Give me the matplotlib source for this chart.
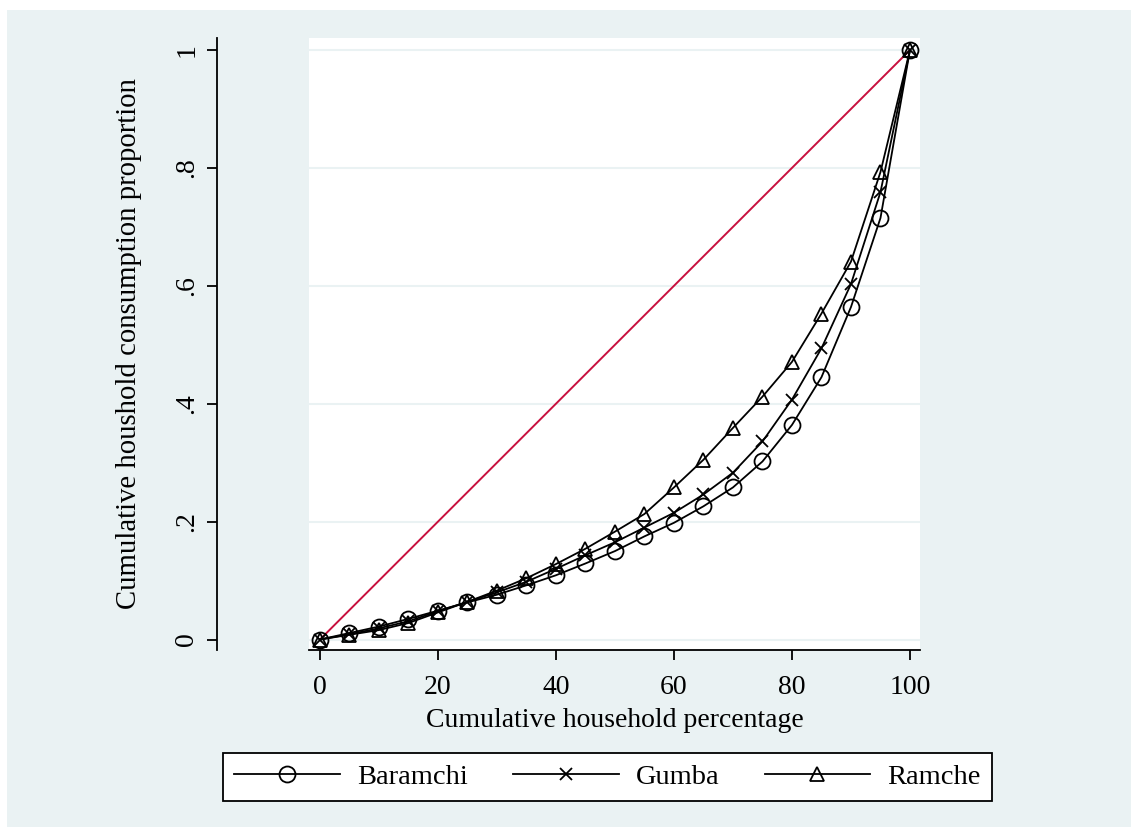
import matplotlib
matplotlib.use("Agg")
import matplotlib.pyplot as plt
from matplotlib.patches import Rectangle

plt.rcParams['font.family'] = ['Liberation Serif', 'DejaVu Serif']

# Data
pct = [0, 5, 10, 15, 20, 25, 30, 35, 40, 45, 50, 55, 60, 65, 70, 75, 80, 85, 90, 95, 100]
baramchi = [0, 0.011, 0.022, 0.035, 0.049, 0.063, 0.076, 0.092, 0.109, 0.129, 0.150,
            0.175, 0.198, 0.226, 0.258, 0.302, 0.364, 0.445, 0.564, 0.715, 1.0]
gumba = [0, 0.009, 0.019, 0.031, 0.048, 0.064, 0.080, 0.098, 0.120, 0.143, 0.165,
         0.190, 0.215, 0.246, 0.283, 0.336, 0.407, 0.494, 0.603, 0.759, 1.0]
ramche = [0, 0.008, 0.016, 0.028, 0.046, 0.064, 0.083, 0.104, 0.128, 0.154, 0.183,
          0.213, 0.258, 0.305, 0.359, 0.412, 0.471, 0.553, 0.641, 0.793, 1.0]
equality_x = [0, 50, 100]
equality_y = [0, 0.5, 1.0]
x_ticks = [0, 20, 40, 60, 80, 100]
y_ticks = [0, 0.2, 0.4, 0.6, 0.8, 1.0]
y_ticklabels = ['0', '.2', '.4', '.6', '.8', '1']

W, H = 1131, 827
fig = plt.figure(figsize=(W / 100, H / 100), dpi=100, facecolor='white')
bg = '#EAF2F3'
bgrect = Rectangle((7 / W, 0), 1 - 7 / W, 1 - 10 / H, transform=fig.transFigure,
                   facecolor=bg, edgecolor='none', zorder=-10)
fig.patches.append(bgrect)

ax = fig.add_axes([309 / W, 1 - 650 / H, (920 - 309) / W, (650 - 38) / H], zorder=1)
ax.set_facecolor('white')

ax.plot(equality_x, equality_y, color='#C8103E', lw=1.4, zorder=2)
lw = 1.3
mew = 1.3
l1, = ax.plot(pct, baramchi, color='black', lw=lw, marker='o', ms=11.5, mfc='none',
              mec='black', mew=mew, label='Baramchi', zorder=3)
l2, = ax.plot(pct, gumba, color='black', lw=lw, marker='x', ms=8, mec='black',
              mew=mew, label='Gumba', zorder=3)
l3, = ax.plot(pct, ramche, color='black', lw=lw, marker='^', ms=10.5, mfc='none',
              mec='black', mew=mew, label='Ramche', zorder=3)

ax.set_xlim(-1.86, 101.7)
ax.set_ylim(-0.0178, 1.0204)
ax.set_xticks(x_ticks)
ax.set_yticks(y_ticks)
ax.set_yticklabels(y_ticklabels)
ax.yaxis.grid(True, color=bg, lw=1.5, zorder=0)
ax.set_axisbelow(True)

for s in ['top', 'right']:
    ax.spines[s].set_visible(False)
ax.spines['left'].set_position(('outward', 66))
ax.spines['left'].set_linewidth(1.3)
ax.spines['bottom'].set_linewidth(1.3)
ax.tick_params(axis='both', direction='out', length=7, width=1.3, labelsize=20, color='black')
ax.tick_params(axis='x', pad=11)
ax.tick_params(axis='y', pad=6, labelrotation=90)
for t in ax.get_yticklabels():
    t.set_va('center')

ax.set_xlabel('Cumulative household percentage', fontsize=20, labelpad=6)
ax.set_ylabel('Cumulative houshold consumption proportion', fontsize=20.7, labelpad=23.5)

leg = fig.legend(handles=[l1, l2, l3], loc='center', ncol=3,
                 bbox_to_anchor=((220 + 995) / 2 / W, 1 - 777 / H),
                 fontsize=20.5, frameon=True, fancybox=False, handlelength=3.7,
                 handletextpad=0.6, columnspacing=1.6, borderpad=0.4, framealpha=1)
leg.get_frame().set_edgecolor('black')
leg.get_frame().set_linewidth(1.3)
leg.get_frame().set_facecolor('white')

fig.savefig('out.png', dpi=100, facecolor='white')
